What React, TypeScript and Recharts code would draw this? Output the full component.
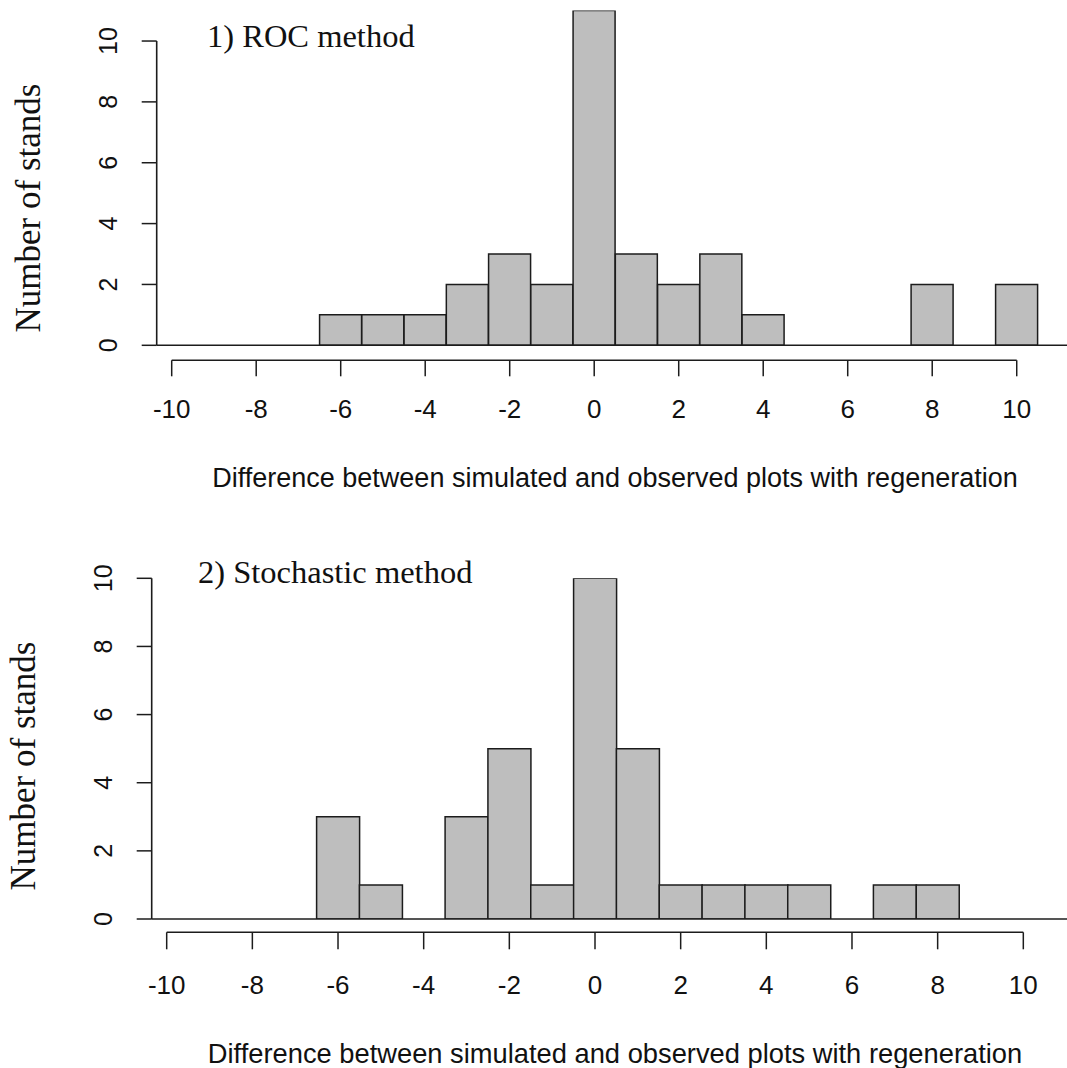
import React from 'react';
import { BarChart, Bar, XAxis, YAxis, ReferenceLine } from 'recharts';

// histogram bins (centres) and counts
const bins = [-10, -9, -8, -7, -6, -5, -4, -3, -2, -1, 0, 1, 2, 3, 4, 5, 6, 7, 8, 9, 10];
const rocCounts = [0, 0, 0, 0, 1, 1, 1, 2, 3, 2, 11, 3, 2, 3, 1, 0, 0, 0, 2, 0, 2];
const stochasticCounts = [0, 0, 0, 0, 3, 1, 0, 3, 5, 1, 10, 5, 1, 1, 1, 1, 0, 1, 1, 0, 0];

const xTicks = [-10, -8, -6, -4, -2, 0, 2, 4, 6, 8, 10];
const yTicks = [0, 2, 4, 6, 8, 10];

const titles = ['1) ROC method', '2) Stochastic method'];
const xLabel = 'Difference between simulated and observed plots with regeneration';
const yLabel = 'Number of stands';

const W = 1067;
const PANEL_H = 534;
const Y_AXIS_W = 100;
const Y_TICK_LEN = 15;
const X_AXIS_H = 40;
const INK = '#1c1c1c';
const BAR_FILL = '#bebebe';
const SANS = '"Liberation Sans", Arial, sans-serif';
const SERIF = '"Liberation Serif", "Times New Roman", serif';

// per-panel geometry, px relative to each panel
const layouts = [
  {
    plotLeft: 156.7, plotTop: 10.6, plotBottom: 345.3, xMin: -10.355, xMax: 11.19, yMax: 11,
    axisGap: 15, tickLen: 16, labelGap: 64, xLabelY: 487, xLabelSize: 27, titleX: 207, titleY: 47, yLabelX: 28, yLabelY: 208,
  },
  {
    plotLeft: 151.7, plotTop: 44.3, plotBottom: 385, xMin: -10.35, xMax: 11.02, yMax: 10,
    axisGap: 13.3, tickLen: 17, labelGap: 66, xLabelY: 529, xLabelSize: 27.3, titleX: 198, titleY: 49, yLabelX: 23, yLabelY: 232,
  },
];

function Panel({ counts, title, layout }: { counts: number[]; title: string; layout: typeof layouts[0] }) {
  const data = bins.map((bin, i) => ({ bin, count: counts[i] }));
  const L = layout;
  const yTop = yTicks[yTicks.length - 1];
  // y of the top tick on the same linear scale as the axis
  const yAxisTopPx = L.plotBottom - ((L.plotBottom - L.plotTop) * yTop) / L.yMax;

  const xTick = (p: any) => (
    <g>
      <line x1={p.x} y1={p.y + L.axisGap} x2={p.x} y2={p.y + L.axisGap + L.tickLen} stroke={INK} strokeWidth={1.5} />
      <text x={p.x} y={p.y + L.labelGap} textAnchor="middle" dominantBaseline="central"
        fontFamily={SANS} fontSize={26} fill="#111">
        {p.payload.value}
      </text>
    </g>
  );

  const yTick = (p: any) => {
    const tx = p.x - 34;
    return (
      <text x={tx} y={p.y} transform={`rotate(-90, ${tx}, ${p.y})`} textAnchor="middle"
        dominantBaseline="central" fontFamily={SANS} fontSize={25} fill="#111">
        {p.payload.value}
      </text>
    );
  };

  return (
    <BarChart
      width={W}
      height={PANEL_H}
      data={data}
      barGap={0}
      barCategoryGap={0}
      margin={{
        top: L.plotTop,
        right: 0,
        left: L.plotLeft - Y_AXIS_W,
        bottom: PANEL_H - L.plotBottom - X_AXIS_H,
      }}
    >
      <XAxis
        dataKey="bin"
        type="number"
        domain={[L.xMin, L.xMax]}
        allowDataOverflow
        ticks={xTicks}
        interval={0}
        axisLine={false}
        tickLine={false}
        tickSize={0}
        tickMargin={0}
        height={X_AXIS_H}
        tick={xTick}
      />
      <YAxis
        type="number"
        domain={[0, L.yMax]}
        allowDataOverflow
        ticks={yTicks}
        interval={0}
        width={Y_AXIS_W}
        axisLine={false}
        tickLine={{ stroke: INK, strokeWidth: 1.5 }}
        tickSize={Y_TICK_LEN}
        tickMargin={0}
        tick={yTick}
      />
      <Bar dataKey="count" fill={BAR_FILL} stroke={INK} strokeWidth={1.5} isAnimationActive={false} />
      <ReferenceLine y={0} stroke={INK} strokeWidth={1.5} ifOverflow="visible" />
      <ReferenceLine
        segment={[{ x: xTicks[0], y: 0 }, { x: xTicks[xTicks.length - 1], y: 0 }]}
        ifOverflow="visible"
        shape={(p: any) => (
          <line x1={p.x1} y1={p.y1 + L.axisGap} x2={p.x2} y2={p.y2 + L.axisGap} stroke={INK} strokeWidth={1.5} />
        )}
      />
      <line x1={L.plotLeft} y1={L.plotBottom} x2={L.plotLeft} y2={yAxisTopPx} stroke={INK} strokeWidth={1.6} />
      <text x={L.titleX} y={L.titleY} fontFamily={SERIF} fontSize={32.5} fill="#111">{title}</text>
      <text
        x={L.yLabelX}
        y={L.yLabelY}
        transform={`rotate(-90, ${L.yLabelX}, ${L.yLabelY})`}
        textAnchor="middle"
        dominantBaseline="central"
        fontFamily={SERIF}
        fontSize={35}
        fill="#111"
      >
        {yLabel}
      </text>
      <text x={615} y={L.xLabelY} textAnchor="middle" fontFamily={SANS} fontSize={L.xLabelSize} fill="#111">
        {xLabel}
      </text>
    </BarChart>
  );
}

export default function App() {
  return (
    <div style={{ position: 'absolute', left: 0, top: 0, width: W, height: 1068, background: '#fff' }}>
      <div style={{ position: 'absolute', left: 0, top: 0 }}>
        <Panel counts={rocCounts} title={titles[0]} layout={layouts[0]} />
      </div>
      <div style={{ position: 'absolute', left: 0, top: PANEL_H }}>
        <Panel counts={stochasticCounts} title={titles[1]} layout={layouts[1]} />
      </div>
    </div>
  );
}
